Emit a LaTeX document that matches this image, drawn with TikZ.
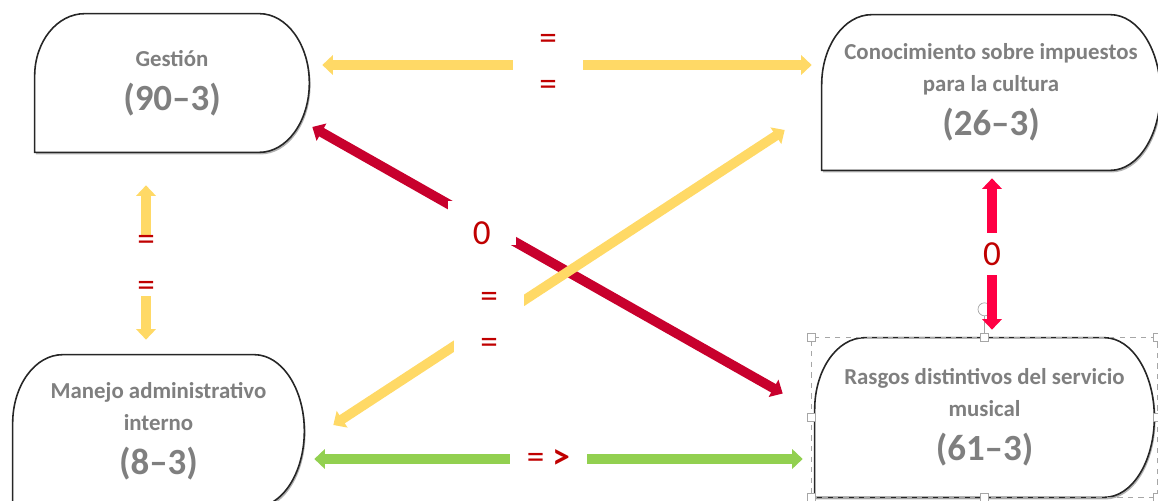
\documentclass[tikz,border=0pt]{standalone}
\usepackage{fontspec}
\setmainfont{Carlito}
\usetikzlibrary{arrows.meta,calc,fit,shadows,backgrounds}
\definecolor{ylw}{HTML}{FFD966}
\definecolor{grn}{HTML}{92D050}
\definecolor{crim}{HTML}{C8002D}
\definecolor{pinkred}{HTML}{FF0044}
\definecolor{lblred}{HTML}{C00000}
\definecolor{txtgray}{HTML}{7F7F7F}
\newcommand{\boxfont}{\fontsize{13}{18}\selectfont\bfseries}
\newcommand{\numfont}{\fontsize{21}{26}\selectfont\bfseries}
% outline: rounded top-left, half-round right side, square bottom-left
\newcommand{\tabshape}[1]{%
  \begin{pgfonlayer}{background}
  \draw[boxline] let \p1=($(#1.north east)-(#1.south west)$) in
    (#1.south west) -- ([yshift=-0.45*\y1]#1.north west)
    arc[start angle=180,end angle=90,x radius=1cm,y radius=0.45*\y1]
    -- ([xshift=-1cm]#1.north east)
    arc[start angle=90,end angle=-90,x radius=1cm,y radius=0.5*\y1]
    -- cycle;
  \end{pgfonlayer}}

\begin{document}
\begin{tikzpicture}[x=0.02cm,y=-0.02cm,
    bx/.style={align=center,text=txtgray,font=\boxfont,inner sep=0pt},
    boxline/.style={draw=black!85,line width=0.9pt,fill=white,
      drop shadow={shadow xshift=0.7pt,shadow yshift=-1.2pt,opacity=0.3,fill=black}},
    dbl/.style={{Triangle[width=11pt,length=6pt]}-{Triangle[width=11pt,length=6pt]},line width=5.5pt},
    lbl/.style={fill=white,text=lblred,align=center,inner sep=0pt,font=\fontsize{20}{26}\selectfont},
    selbox/.style={draw=gray!70,dashed,thin,inner ysep=0pt,inner xsep=0.06cm},
    handle/.style={draw=gray!70,fill=white,rectangle,minimum size=0.16cm,inner sep=0pt}
]
\useasboundingbox (0,0) rectangle (1158,500);

\node[bx,minimum width=5.48cm,minimum height=2.76cm] (g) at (172,83) {Gestión\\[7pt]{\numfont (90–3)}};
\node[bx,minimum width=6.76cm,minimum height=3.1cm] (c) at (991,92.5) {Conocimiento sobre impuestos\\para la cultura\\[7pt]{\numfont (26–3)}};
\node[bx,minimum width=6.78cm,minimum height=3.18cm] (r) at (984.5,417.5) {Rasgos distintivos del servicio\\musical\\[7pt]{\numfont (61–3)}};
\node[bx,minimum width=5.82cm,minimum height=3.04cm] (m) at (158.5,431) {Manejo administrativo\\interno\\[7pt]{\numfont (8–3)}};
\tabshape{g}
\tabshape{c}
\tabshape{r}
\tabshape{m}

% selection frame round r
\node[selbox,fit=(r)] (sel) {};
\node[draw=gray!70,circle,minimum size=0.26cm,inner sep=0pt] (rot) at ($(sel.north)+(0,-28)$) {};
\draw[gray!70] (rot) -- (sel.north);
\foreach \a in {north west,north,north east,west,east,south west,south,south east}
  \node[handle] at (sel.\a) {};

\draw[dbl,draw=crim] ([xshift=0.06cm,yshift=-0.88cm]g.east) -- ([xshift=-0.64cm,yshift=0.48cm]r.west)
  node[lbl,pos=0.36,minimum width=1.36cm] (l3) {\rule{0pt}{0.86cm}0};
\draw[dbl,draw=ylw] ([xshift=0.58cm,yshift=0.12cm]m.east) -- ([xshift=-0.74cm,yshift=-0.75cm]c.west)
  node[lbl,pos=0.345,minimum width=1.4cm] (l4) {=\\=};
\draw[dbl,draw=ylw,shorten <=0.26cm,shorten >=0.2cm] ([yshift=0.36cm]g.east) -- ([yshift=0.55cm]c.west)
  node[lbl,pos=0.466,minimum width=1.4cm] (l1) {=\\=};
\draw[dbl,draw=ylw,shorten <=0.66cm,shorten >=0.3cm] ([xshift=-0.52cm]g.south) -- ([xshift=-0.25cm]m.north)
  node[lbl,pos=0.56] (l2) {=\\=};
\draw[dbl,draw=pinkred,shorten <=0.16cm,shorten >=0.16cm] ([xshift=0.02cm]c.south) -- ([xshift=0.15cm]r.north)
  node[lbl,pos=0.5,minimum height=0.86cm] (l5) {0};
\draw[dbl,draw=grn,shorten <=0.2cm,shorten >=0.24cm] ([yshift=-0.56cm]m.east) -- ([yshift=-0.83cm]r.west)
  node[lbl,pos=0.478,minimum width=1.54cm] (l6) {= \textbf{>}};
\end{tikzpicture}
\end{document}
